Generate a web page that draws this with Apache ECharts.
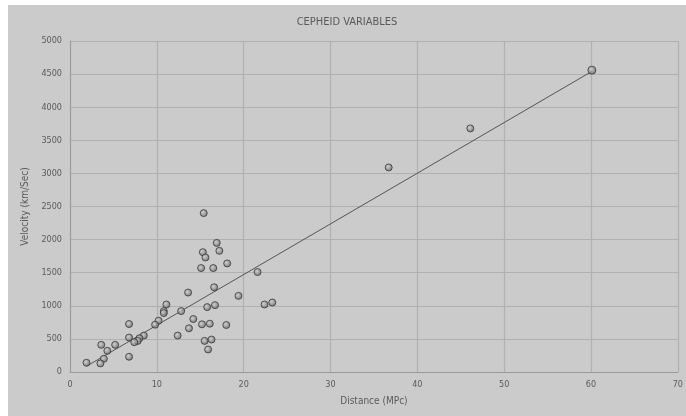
<!DOCTYPE html>
<html>
<head>
<meta charset="utf-8">
<style>
  html, body { margin: 0; padding: 0; background: #ffffff; }
  #chart { position: absolute; left: 8px; top: 5px; width: 678px; height: 411px; background: #cbcbcb; }
</style>
<script src="https://cdn.jsdelivr.net/npm/echarts@6/dist/echarts.min.js"></script>
</head>
<body>
<div id="chart"></div>
<script>
// Cepheid variables: distance (Mpc) against recession velocity (km/s)
const distance = [
  15.4, 16.9, 15.3, 17.2, 15.6, 18.1, 15.1, 16.5, 21.6, 16.6,
  13.6, 19.4, 11.1, 15.8, 16.7, 22.4, 23.3, 10.8, 10.8, 12.8,
  14.2, 10.2, 9.8, 6.8, 15.2, 16.1, 18.0, 13.7, 12.4, 6.8,
  8.5, 8.0, 7.8, 7.4, 15.5, 16.3, 15.9, 3.6, 5.2, 4.3,
  6.8, 3.9, 3.5, 1.9, 36.7, 46.1
];
const velocity = [
  2400, 1950, 1810, 1830, 1730, 1640, 1570, 1570, 1510, 1280,
  1200, 1150, 1020, 980, 1010, 1020, 1050, 920, 890, 920,
  800, 775, 715, 725, 720, 730, 710, 660, 550, 520,
  550, 510, 470, 450, 470, 490, 340, 410, 410, 320,
  230, 200, 130, 140, 3090, 3680
];
// the most distant galaxy, drawn a little larger
const farDistance = [60.1];
const farVelocity = [4560];

const xTicks = [0, 10, 20, 30, 40, 50, 60, 70];
const yTicks = [0, 500, 1000, 1500, 2000, 2500, 3000, 3500, 4000, 4500, 5000];

// least-squares trend line through all points
const allX = distance.concat(farDistance);
const allY = velocity.concat(farVelocity);
const n = allX.length;
const mx = allX.reduce((a, b) => a + b, 0) / n;
const my = allY.reduce((a, b) => a + b, 0) / n;
let sxy = 0, sxx = 0;
for (let i = 0; i < n; i++) {
  sxy += (allX[i] - mx) * (allY[i] - my);
  sxx += (allX[i] - mx) * (allX[i] - mx);
}
const slope = sxy / sxx;
const intercept = my - slope * mx;
const xMin = Math.min(...allX), xMax = Math.max(...allX);
const trend = [[xMin, intercept + slope * xMin], [xMax, intercept + slope * xMax]];

const pts = distance.map((d, i) => [d, velocity[i]]);
const farPts = farDistance.map((d, i) => [d, farVelocity[i]]);

const font = "'Liberation Sans Narrow', 'DejaVu Sans Condensed', 'Liberation Sans', sans-serif";
const textCol = '#5a5a5a';
const markerFill = {
  type: 'radial', x: 0.4, y: 0.4, r: 0.6,
  colorStops: [{ offset: 0, color: '#d0d0d0' }, { offset: 1, color: '#666666' }]
};

const chart = echarts.init(document.getElementById('chart'), null, { renderer: 'canvas' });
chart.setOption({
  animation: false,
  backgroundColor: '#cbcbcb',
  title: {
    text: 'CEPHEID VARIABLES',
    left: 'center', top: 7,
    textStyle: { fontFamily: font, fontSize: 11, fontWeight: 'normal', color: textCol }
  },
  grid: { left: 62, right: 6, top: 36, bottom: 44 },
  xAxis: {
    type: 'value', min: 0, max: 70, interval: 10,
    name: 'Distance (MPc)', nameLocation: 'middle', nameGap: 24,
    nameTextStyle: { fontFamily: font, fontSize: 10, color: textCol },
    axisLine: { show: true, lineStyle: { color: '#9a9a9a', width: 1 } },
    axisTick: { show: false },
    axisLabel: { fontFamily: font, fontSize: 9, color: textCol, margin: 8,
      formatter: v => xTicks.includes(v) ? String(v) : '' },
    splitLine: { show: true, lineStyle: { color: '#b0b0b0', width: 1.2 } }
  },
  yAxis: {
    type: 'value', min: 0, max: 5000, interval: 500,
    name: 'Velocity (km/Sec)', nameLocation: 'middle', nameGap: 27, nameRotate: 90,
    nameTextStyle: { fontFamily: font, fontSize: 10, color: textCol },
    axisLine: { show: true, lineStyle: { color: '#9a9a9a', width: 1 } },
    axisTick: { show: false },
    axisLabel: { fontFamily: font, fontSize: 9, color: textCol, margin: 8,
      formatter: v => yTicks.includes(v) ? String(v) : '' },
    splitLine: { show: true, lineStyle: { color: '#b0b0b0', width: 1.2 } }
  },
  series: [
    {
      type: 'line', data: trend, showSymbol: false, silent: true,
      lineStyle: { color: '#555555', width: 1 }, z: 2
    },
    {
      type: 'scatter', data: pts, symbol: 'circle', symbolSize: 7,
      itemStyle: { color: markerFill, borderColor: '#3a3a3a', borderWidth: 1 }, z: 3
    },
    {
      type: 'scatter', data: farPts, symbol: 'circle', symbolSize: 8,
      itemStyle: { color: markerFill, borderColor: '#3a3a3a', borderWidth: 1 }, z: 3
    }
  ]
});
</script>
</body>
</html>
